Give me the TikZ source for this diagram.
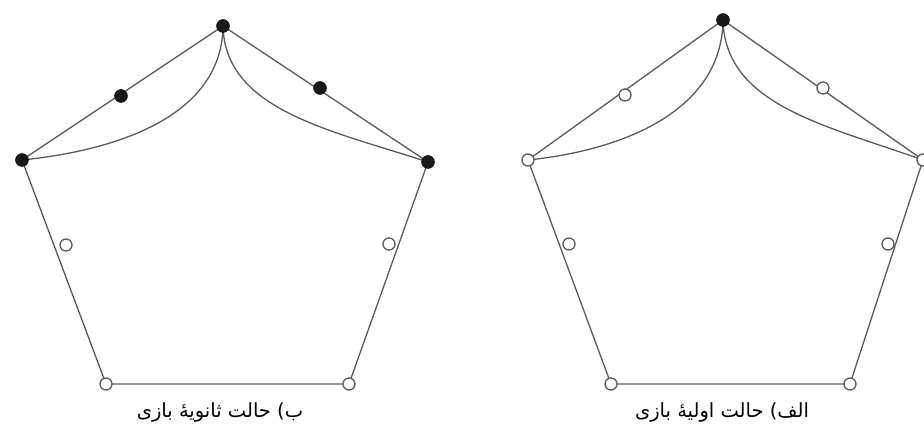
\documentclass[tikz,border=0pt]{standalone}
\usepackage{fontspec}
\newfontfamily\arabicfont[Script=Arabic]{DejaVu Sans}
\TeXXeTstate=1
\definecolor{edgegray}{RGB}{90,90,90}
\tikzset{
  edge/.style={draw=edgegray, line width=1.3pt},
  fullpt/.style={circle, fill=black!90, draw=black, inner sep=0pt, minimum size=13pt},
  openpt/.style={circle, fill=white, draw=edgegray, line width=1.3pt, inner sep=0pt, minimum size=12pt},
  caption/.style={font=\arabicfont\fontsize{19.5}{23}\selectfont, inner sep=0pt}
}
\begin{document}
\begin{tikzpicture}[x=1pt,y=-1pt]
\useasboundingbox (0,0) rectangle (924,430);
% ---------- left pentagon (secondary state) ----------
\coordinate (aT) at (223,26);
\coordinate (aL) at (22,160);
\coordinate (aR) at (428,162);
\coordinate (aBL) at (106,384);
\coordinate (aBR) at (349,384);
\coordinate (aUL) at (121,96);
\coordinate (aUR) at (320,88);
\coordinate (aSL) at (66,245);
\coordinate (aSR) at (389,244);
\draw[edge] (aT) -- (aL) -- (aBL) -- (aBR) -- (aR) -- cycle;
\draw[edge] (aT) .. controls (222,115) and (120,150) .. (aL);
\draw[edge] (aT) .. controls (225,110) and (330,130) .. (aR);
\node[fullpt] (pT) at (aT) {};
\node[fullpt] (pL) at (aL) {};
\node[fullpt] (pR) at (aR) {};
\node[fullpt] (pUL) at (aUL) {};
\node[fullpt] (pUR) at (aUR) {};
\node[openpt] (pBL) at (aBL) {};
\node[openpt] (pBR) at (aBR) {};
\node[openpt] (pSL) at (aSL) {};
\node[openpt] (pSR) at (aSR) {};
% ---------- right pentagon (initial state) ----------
\coordinate (bT) at (723,20);
\coordinate (bL) at (528,160);
\coordinate (bR) at (923,160);
\coordinate (bBL) at (611,384);
\coordinate (bBR) at (850,384);
\coordinate (bUL) at (625,95);
\coordinate (bUR) at (823,88);
\coordinate (bSL) at (569,244);
\coordinate (bSR) at (888,244);
\draw[edge] (bT) -- (bL) -- (bBL) -- (bBR) -- (bR) -- cycle;
\draw[edge] (bT) .. controls (722,110) and (625,150) .. (bL);
\draw[edge] (bT) .. controls (725,105) and (825,125) .. (bR);
\node[fullpt] (qT) at (bT) {};
\node[openpt] (qL) at (bL) {};
\node[openpt] (qR) at (bR) {};
\node[openpt] (qUL) at (bUL) {};
\node[openpt] (qUR) at (bUR) {};
\node[openpt] (qBL) at (bBL) {};
\node[openpt] (qBR) at (bBR) {};
\node[openpt] (qSL) at (bSL) {};
\node[openpt] (qSR) at (bSR) {};
% ---------- captions ----------
\node[caption] (capB) at (220,412) {\beginR ب) حالت ثانویهٔ بازی\endR};
\node[caption] (capA) at (722,412) {\beginR الف) حالت اولیهٔ بازی\endR};
\end{tikzpicture}
\end{document}
